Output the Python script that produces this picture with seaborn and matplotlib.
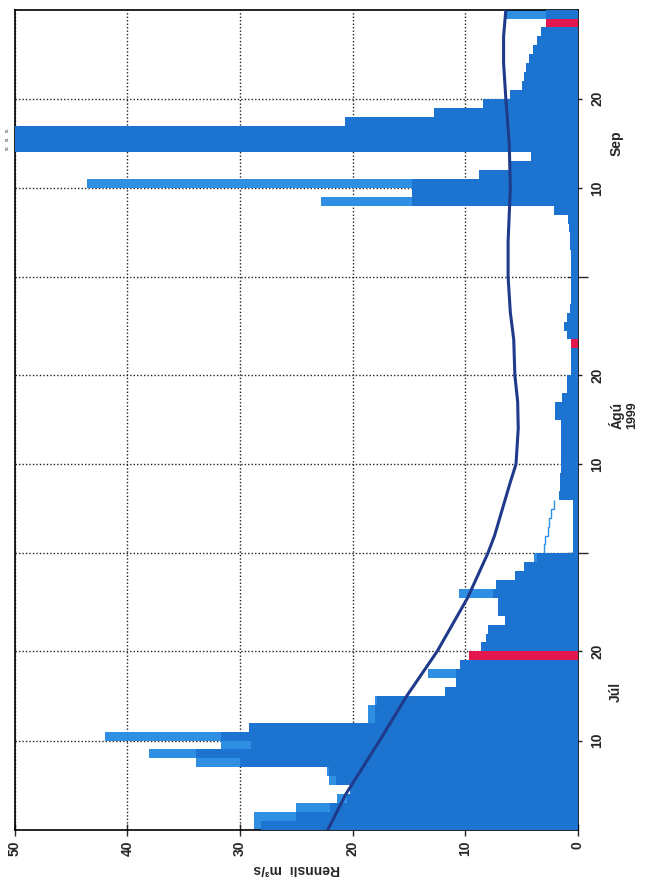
import numpy as np
import matplotlib
matplotlib.use("Agg")
import matplotlib.pyplot as plt
import matplotlib.transforms as mtransforms
import seaborn as sns

# day index 0 = 1. júlí 1999, 91 = 30. sept.
days = np.arange(92)

# daily maximum (light blue)
max_flow = [
    28.8, 28.8, 25.0, 21.4, 20.2, 22.1, 22.3, 33.9, 38.1, 31.7,
    42.0, 29.2, 18.6, 18.6, 18.0, 11.8, 10.8, 13.3, 10.5, 9.7,
    8.6, 8.2, 8.0, 6.5, 7.1, 7.1, 10.6, 7.3, 5.6, 4.8,
    3.9, 0.4, 0.4, 0.4, 0.4, 0.4, 0.4, 1.7, 1.6, 1.6,
    1.5, 1.5, 1.5, 1.5, 1.5, 1.5, 2.0, 2.0, 1.4, 1.0,
    1.0, 0.6, 0.6, 0.6, 0.6, 1.0, 1.2, 1.0, 0.7, 0.6,
    0.6, 0.6, 0.6, 0.6, 0.6, 0.7, 0.7, 0.8, 0.9, 2.1,
    22.8, 14.7, 43.6, 8.8, 6.0, 4.2, 58.0, 61.0, 55.0, 20.7,
    12.8, 8.4, 6.0, 5.0, 4.8, 4.6, 4.3, 4.0, 3.6, 3.3,
    2.8, 6.4,
]

# daily mean (darker blue)
mean_flow = [
    28.1, 25.0, 22.0, 20.5, 20.2, 21.5, 22.1, 30.0, 33.9, 29.0,
    31.7, 29.2, 18.0, 18.0, 17.8, 11.8, 10.8, 10.8, 10.5, 9.7,
    8.6, 8.2, 8.0, 6.5, 7.1, 7.1, 7.5, 7.3, 5.6, 4.8,
    3.6, 0.4, 0.4, 0.4, 0.4, 0.4, 0.4, 1.7, 1.6, 1.6,
    1.5, 1.5, 1.5, 1.5, 1.5, 1.5, 2.0, 2.0, 1.4, 1.0,
    1.0, 0.6, 0.6, 0.6, 0.6, 1.0, 1.2, 1.0, 0.7, 0.6,
    0.6, 0.6, 0.6, 0.6, 0.6, 0.7, 0.7, 0.8, 0.9, 2.1,
    14.7, 14.7, 14.7, 8.8, 6.0, 4.2, 56.0, 56.0, 56.0, 20.7,
    12.8, 8.4, 6.0, 5.0, 4.8, 4.6, 4.3, 4.0, 3.6, 3.3,
    2.8, 2.8,
]

# outline only (byrjun ágúst)
outline_edges = [31, 32, 33, 34, 35, 36, 37]
outline_flow = [3.0, 2.9, 2.7, 2.6, 2.4, 2.1]

# red days
red_days = [19, 54, 90]
red_flow = [9.7, 0.6, 2.8]

# smooth curve
curve_day = [0, 4, 10, 15, 20, 26, 31, 33, 36, 39, 41, 45, 48, 51, 55, 58,
             62, 66, 72, 77, 82, 86, 89, 92]
curve_flow = [22.2, 20.6, 17.6, 15.2, 12.5, 9.8, 8.0, 7.4, 6.7, 6.0, 5.5,
              5.3, 5.35, 5.6, 5.7, 6.0, 6.2, 6.2, 6.0, 6.1, 6.4, 6.6, 6.6, 6.4]

sns.set_style("ticks")
plt.rcParams['font.family'] = ['Liberation Sans', 'DejaVu Sans']

light = "#2f8fe2"
dark = "#1c74d0"
red = "#e3164e"
navy = "#1f3a8a"

fig = plt.figure(figsize=(6.45, 8.77), dpi=100)
ax = fig.add_axes([0.023, 0.054, 0.873, 0.935])

ax.barh(days + 0.5, max_flow, height=1.0, color=light, linewidth=0, zorder=2)
ax.barh(days + 0.5, mean_flow, height=1.0, color=dark, linewidth=0, zorder=3)
ax.stairs(outline_flow, outline_edges, orientation="horizontal",
          baseline=None, color=light, linewidth=1.0, zorder=3)
ax.barh(np.array(red_days) + 0.5, red_flow, height=1.0, color=red,
        linewidth=0, zorder=4)
sns.lineplot(x=curve_flow, y=curve_day, sort=False, estimator=None,
             color=navy, linewidth=2.2, ax=ax, zorder=5)

ax.set_xlim(50, 0)
ax.set_ylim(0, 92)

# value axis (bottom)
ax.set_xticks([50, 40, 30, 20, 10, 0])
ax.set_xticklabels(["50", "40", "30", "20", "10", "0"], rotation=90,
                   fontsize=10, fontweight="bold")
ax.set_xlabel("Rennsli  m³/s", rotation=180, fontsize=10, fontweight="bold",
              labelpad=4)

# date axis (right)
ax.yaxis.tick_right()
ax.set_yticks([31, 62])
ax.set_yticklabels([])
ax.set_yticks([10, 20, 41, 51, 72, 82], minor=True)
ax.set_yticklabels(["10", "20", "10", "20", "10", "20"], minor=True,
                   rotation=90, va="center", fontsize=10, fontweight="bold")
ax.tick_params(axis="y", which="major", length=14, width=1, direction="inout")
ax.tick_params(axis="y", which="minor", length=6, width=1, direction="inout",
               pad=6)
ax.tick_params(axis="x", length=8, width=1, direction="inout", pad=4)

ax.grid(True, which="both", color="#222222", linestyle=(0, (1, 1.5)),
        linewidth=1.0, zorder=1)
ax.set_axisbelow(True)
for sp in ax.spines.values():
    sp.set_color("black")
    sp.set_linewidth(1.2)
    sp.set_visible(True)

trans = mtransforms.blended_transform_factory(ax.transAxes, ax.transData)
for label, pos in [("Júl", 15.5), ("Ágú", 46.5), ("Sep", 77.0)]:
    ax.text(1.068, pos, label, transform=trans, rotation=90, ha="center",
            va="center", fontsize=10, fontweight="bold")
ax.text(1.097, 46.5, "1999", transform=trans, rotation=90, ha="center",
        va="center", fontsize=9, fontweight="bold")

# off-scale values
for d, v in zip(days, max_flow):
    if v > 50:
        ax.text(-0.012, d + 0.5, f"{v:.0f}", transform=trans, fontsize=3,
                ha="center", va="center", rotation=90)

fig.savefig("out.png", dpi=100)
